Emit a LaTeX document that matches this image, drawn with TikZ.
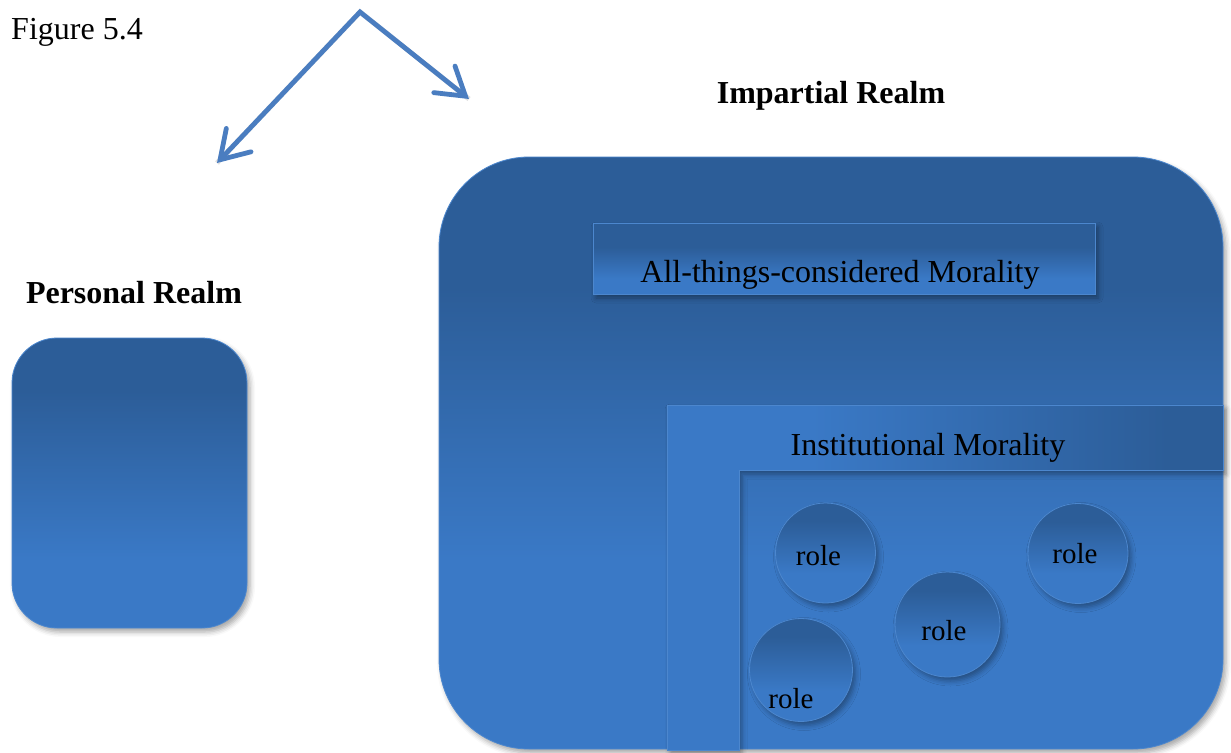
\documentclass[tikz,border=0pt]{standalone}
\usepackage{fontspec}
\setmainfont{Liberation Serif}
\usetikzlibrary{arrows.meta,shadows.blur}

\definecolor{deepblue}{HTML}{2C5D98}
\definecolor{lightblue}{HTML}{3A79C6}
\definecolor{rimblue}{HTML}{4C87CE}
\definecolor{arrowblue}{HTML}{4A7DC0}

% vertical fades: dark at the top, light at the bottom
\pgfdeclareverticalshading{bigfade}{100bp}{color(0bp)=(lightblue); color(41bp)=(lightblue); color(64bp)=(deepblue); color(100bp)=(deepblue)}
\pgfdeclareverticalshading{personalfade}{100bp}{color(0bp)=(lightblue); color(37bp)=(lightblue); color(66bp)=(deepblue); color(100bp)=(deepblue)}
\pgfdeclareverticalshading{bandfade}{100bp}{color(0bp)=(lightblue); color(36bp)=(lightblue); color(58bp)=(deepblue); color(100bp)=(deepblue)}
\pgfdeclareverticalshading{rolefade}{100bp}{color(0bp)=(lightblue); color(40bp)=(lightblue); color(66bp)=(deepblue); color(100bp)=(deepblue)}
% horizontal fade for the institutional band: light on the left, dark on the right
\pgfdeclarehorizontalshading{ellfade}{100bp}{color(0bp)=(lightblue); color(38bp)=(lightblue); color(70bp)=(deepblue); color(100bp)=(deepblue)}

\tikzset{
  softshadow/.style={blur shadow={shadow xshift=3pt, shadow yshift=-4pt, shadow blur radius=5pt, shadow opacity=35}},
  realmbox/.style={rectangle, draw=rimblue, line width=0.8pt, softshadow},
  rolecircle/.style={circle, draw=rimblue, line width=0.8pt, shading=rolefade, softshadow, inner sep=0pt},
  title/.style={font=\fontsize{32}{38}\selectfont\bfseries, anchor=base},
  plain/.style={font=\fontsize{32}{38}\selectfont, anchor=base},
  roletext/.style={font=\fontsize{29}{34}\selectfont, anchor=base},
  pointer/.style={draw=arrowblue, line width=4.8pt, line join=miter,
    {Straight Barb[length=27pt, width=34pt, line cap=round]}-{Straight Barb[length=27pt, width=34pt, line cap=round]}},
}

\begin{document}
\begin{tikzpicture}[x=1pt, y=-1pt]
\useasboundingbox (0,0) rectangle (1231,752);

% caption
\node[plain] (caption) at (77,40) {Figure 5.4};

% two-way pointer
\coordinate (apex) at (360,12);
\coordinate (ltip) at (217,163);
\coordinate (rtip) at (469,99);
\draw[line width=5pt, draw=black, opacity=0.12, line join=miter, shift={(3pt,-4pt)}] (ltip) -- (apex) -- (rtip);
\draw[pointer] (ltip) -- (apex) -- (rtip);

% personal realm
\node[title] (personaltitle) at (134,303) {Personal Realm};
\node[realmbox, shading=personalfade, rounded corners=45pt, minimum width=235pt, minimum height=290pt] (personal) at (129.5,483) {};

% impartial realm
\node[title] (impartialtitle) at (831,103) {Impartial Realm};
\node[realmbox, shading=bigfade, rounded corners=90pt, minimum width=784pt, minimum height=592pt] (impartial) at (831,453) {};

% all-things-considered band
\node[realmbox, shading=bandfade, minimum width=502pt, minimum height=71pt] (atc) at (844,258.5) {};
\node[plain] (atctext) at (840,282) {All-things-considered Morality};

% institutional L-shaped band
\path[draw=rimblue, line width=0.8pt, shading=ellfade, softshadow]
  (667,405) -- (1223,405) -- (1223,470) -- (739,470) -- (739,750) -- (667,750) -- cycle;
\node[plain] (insttext) at (928,455) {Institutional Morality};

% roles
\node[rolecircle, minimum size=100pt] (r1) at (825.5,553) {};
\node[rolecircle, minimum size=105pt] (r2) at (947.5,624.5) {};
\node[rolecircle, minimum size=100pt] (r3) at (1078,553.5) {};
\node[rolecircle, minimum size=103pt] (r4) at (801,670) {};
\node[roletext] (r1text) at (818.5,565) {role};
\node[roletext] (r2text) at (944,640) {role};
\node[roletext] (r3text) at (1075,563) {role};
\node[roletext] (r4text) at (791,708) {role};
\end{tikzpicture}
\end{document}
